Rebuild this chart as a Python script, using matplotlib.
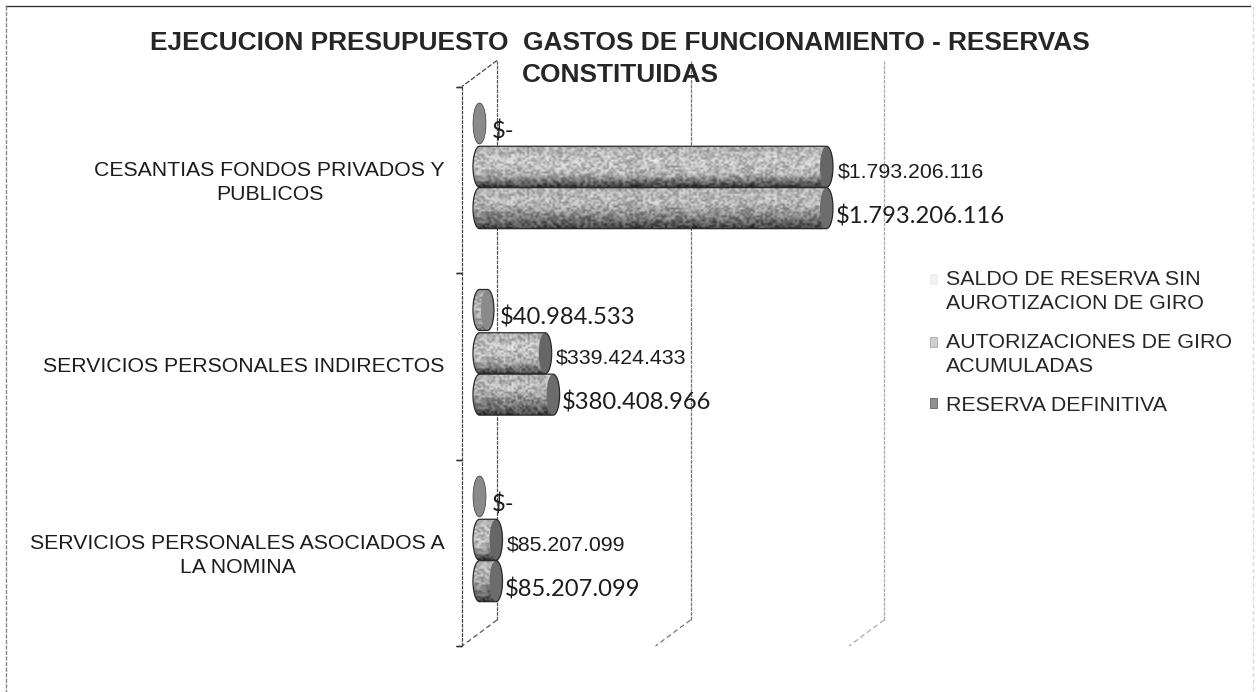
import numpy as np
import matplotlib
matplotlib.use("Agg")
import matplotlib.pyplot as plt
from matplotlib.legend_handler import HandlerPatch
from matplotlib.lines import Line2D
from matplotlib.patches import Ellipse, Patch, PathPatch, Rectangle
from matplotlib.path import Path
from matplotlib.transforms import Affine2D

TITLE = "EJECUCION PRESUPUESTO  GASTOS DE FUNCIONAMIENTO - RESERVAS\nCONSTITUIDAS"
categories = ["SERVICIOS PERSONALES ASOCIADOS A\nLA NOMINA",
              "SERVICIOS PERSONALES INDIRECTOS",
              "CESANTIAS FONDOS PRIVADOS Y\nPUBLICOS"]
series_names = ["SALDO DE RESERVA SIN\nAUROTIZACION DE GIRO",
                "AUTORIZACIONES DE GIRO\nACUMULADAS",
                "RESERVA DEFINITIVA"]
saldo = [0, 40984533, 0]
autorizaciones = [85207099, 339424433, 1793206116]
reserva = [85207099, 380408966, 1793206116]
saldo_labels = ["$-", "$40.984.533", "$-"]
autorizaciones_labels = ["$85.207.099", "$339.424.433", "$1.793.206.116"]
reserva_labels = ["$85.207.099", "$380.408.966", "$1.793.206.116"]
x_ticks = [0, 1000000000, 2000000000]

W, H = 1258, 692
fig = plt.figure(figsize=(W / 100, H / 100), dpi=100, facecolor="white")
ax = fig.add_axes([479.5 / W, (H - 633) / H, 387 / W, 559.5 / H])
ax.set_xlim(0, 2e9)
ax.set_ylim(-0.5, 2.5)
ax.patch.set_visible(False)
for s in ax.spines.values():
    s.set_visible(False)
ax.set_xticks([])
ax.set_yticks(range(3), categories, fontfamily="Liberation Sans", fontsize=15.3, color="#1c1c1c")
ax.tick_params(axis="y", length=0, pad=25)
for lab in ax.get_yticklabels():
    lab.set_multialignment("center")
    lab.set_linespacing(1.32)
    lab.set_transform(lab.get_transform() + Affine2D().translate(0, -11))

back = ax.transData + Affine2D().translate(17.5, 13)
front = ax.transData + Affine2D().translate(-17.5, -13)
GRID_STYLE = dict(lw=0.9, ls=(0, (3, 0.8)), zorder=1)

# wall gridlines + floor slants
for tick, col in zip(x_ticks, ["#555555", "#777777", "#aaaaaa"]):
    ax.plot([tick, tick], [-0.5, 2.5], color=col, transform=back, clip_on=False, **GRID_STYLE)
    p0 = back.transform((tick, -0.5))
    p1 = front.transform((tick, -0.5))
    fig.add_artist(Line2D([p0[0] / W, p1[0] / W], [p0[1] / H, p1[1] / H], color=col, lw=0.9,
                          ls=(0, (4, 2.5)), transform=fig.transFigure, zorder=1))
# front axis with ticks
ax.plot([0, 0], [-0.5, 2.5], color="#444444", transform=front, clip_on=False, **GRID_STYLE)
tick_shift = Affine2D().translate(-3, 0)
for b in [-0.5, 0.5, 1.5, 2.5]:
    ax.plot([0, 0], [b, b], marker="_", ms=5, mew=1.0, color="#333333",
            transform=front + tick_shift, clip_on=False, zorder=1)
# top slant of the first wall
p0 = back.transform((0, 2.5))
p1 = front.transform((0, 2.5))
fig.add_artist(Line2D([p0[0] / W, p1[0] / W], [p0[1] / H, p1[1] / H], color="#444444", lw=0.9,
                      ls=(0, (4, 1.5)), transform=fig.transFigure, zorder=1))

px_per_val = 387 / 2e9
cap_w = 6.5 / px_per_val      # half-width of cylinder ends, data units
bar_h = 41 / (559.5 / 3)      # cylinder height, data units
offsets = [0.232, 0.0, -0.222]
shades = [
    [0.62, 0.72, 0.66, 0.50],
    [0.68, 0.76, 0.70, 0.26],
    [0.70, 0.72, 0.52, 0.26],
]
cap_colors = ["#8a8a8a", "#666666", "#6c6c6c"]


def cylinder_path(v, yc):
    th = np.linspace(-np.pi / 2, np.pi / 2, 40)
    right_x = v + cap_w * np.cos(th)
    right_y = yc + bar_h / 2 * np.sin(th)
    left_x = -cap_w * np.cos(th[::-1])
    left_y = yc + bar_h / 2 * np.sin(th[::-1])
    verts = np.column_stack([np.r_[right_x, left_x, right_x[0]], np.r_[right_y, left_y, right_y[0]]])
    return Path(verts, closed=True)


def speckle(rows, cols):
    j, i = np.mgrid[0:rows, 0:cols]
    v = np.sin(i * 12.9898 + j * 78.233) * 43758.5453
    return v - np.floor(v) - 0.5


def draw_cylinders(values, idx, label_texts, label_font, label_size, dx, dy):
    for cat, (v, txt) in enumerate(zip(values, label_texts)):
        yc = cat + offsets[idx]
        z = 3 + idx + (2 - cat) * 0.01
        ax.barh(yc, v, height=bar_h, color="#9a9a9a", edgecolor="none", zorder=z)
        path = cylinder_path(v, yc)
        rows, cols = 21, max(int((v * px_per_val + 14) / 2), 7)
        frac = np.linspace(0, 1, rows)
        grad = np.interp(frac, [0, 0.35, 0.7, 1], shades[idx])[:, None]
        tex = np.clip(grad + speckle(rows, cols) * 0.34, 0, 1)
        im = ax.imshow(tex, cmap="gray", vmin=0, vmax=1, aspect="auto", origin="upper",
                       extent=(-cap_w, v + cap_w, yc - bar_h / 2, yc + bar_h / 2),
                       interpolation="bilinear", zorder=z + 0.1)
        clip = PathPatch(path, transform=ax.transData, facecolor="none", edgecolor="none")
        ax.add_patch(clip)
        clip.set_clip_on(False)
        im.set_clip_path(clip)
        im.set_clip_box(fig.bbox)
        ax.add_patch(Ellipse((v, yc), 2 * cap_w, bar_h, facecolor=cap_colors[idx],
                             edgecolor="none", zorder=z + 0.2, clip_on=False))
        ax.add_patch(PathPatch(path, facecolor="none", edgecolor="#2a2a2a", lw=0.9 if v else 0.4,
                               zorder=z + 0.3, clip_on=False))
        ax.annotate(txt, xy=(v, yc), xytext=(dx * 0.72, -dy * 0.72), textcoords="offset points",
                    ha="left", va="center", fontfamily=label_font, fontsize=label_size,
                    color="#1c1c1c", zorder=10, annotation_clip=False)


draw_cylinders(saldo, 0, saldo_labels, "Lato", 17.1, 12, 8)
draw_cylinders(autorizaciones, 1, autorizaciones_labels, "Liberation Sans", 15.3, 11, 5)
draw_cylinders(reserva, 2, reserva_labels, "Lato", 17.1, 9, 8)
ax.set_xlim(0, 2e9)
ax.set_ylim(-0.5, 2.5)

# title
fig.text(620 / W, 1 - 59 / H, TITLE, ha="center", va="center", fontfamily="Liberation Sans",
         fontweight="bold", fontsize=18.9, color="#262626", linespacing=1.4)


# legend: keys sit beside the first line of each entry
def raised_key(shift_pt):
    def make(legend, orig_handle, xdescent, ydescent, width, height, fontsize):
        return Rectangle((-xdescent, -ydescent + shift_pt), width, height)
    return HandlerPatch(patch_func=make)


handles = [Patch(facecolor=c, edgecolor=e, lw=0.6)
           for c, e in zip(["#f1f1f1", "#cfcfcf", "#8f8f8f"], ["#eeeeee", "#aaaaaa", "#666666"])]
leg = fig.legend(handles, series_names, loc="upper left", bbox_to_anchor=(930 / W, 1 - 270 / H),
                 frameon=False, prop={"family": "Liberation Sans", "size": 15.4},
                 handlelength=0.33, handleheight=0.33, handletextpad=0.42, labelspacing=0.93,
                 borderpad=0, borderaxespad=0, labelcolor="#262626",
                 handler_map={handles[0]: raised_key(9), handles[1]: raised_key(9)})
for t in leg.get_texts():
    t.set_linespacing(1.33)

# scanned page frame
for xs, ys, col, lw, ls in [
    ([6, 1250], [6, 6], "#333333", 1.0, "-"),
    ([6, 6], [6, 692], "#888888", 1.0, (0, (3, 1))),
    ([1253, 1253], [6, 692], "#d8d8d8", 1.0, (0, (3, 2))),
]:
    fig.add_artist(Line2D(np.array(xs) / W, 1 - np.array(ys) / H, color=col, lw=lw, ls=ls,
                          transform=fig.transFigure))

fig.savefig("out.png", dpi=100)
